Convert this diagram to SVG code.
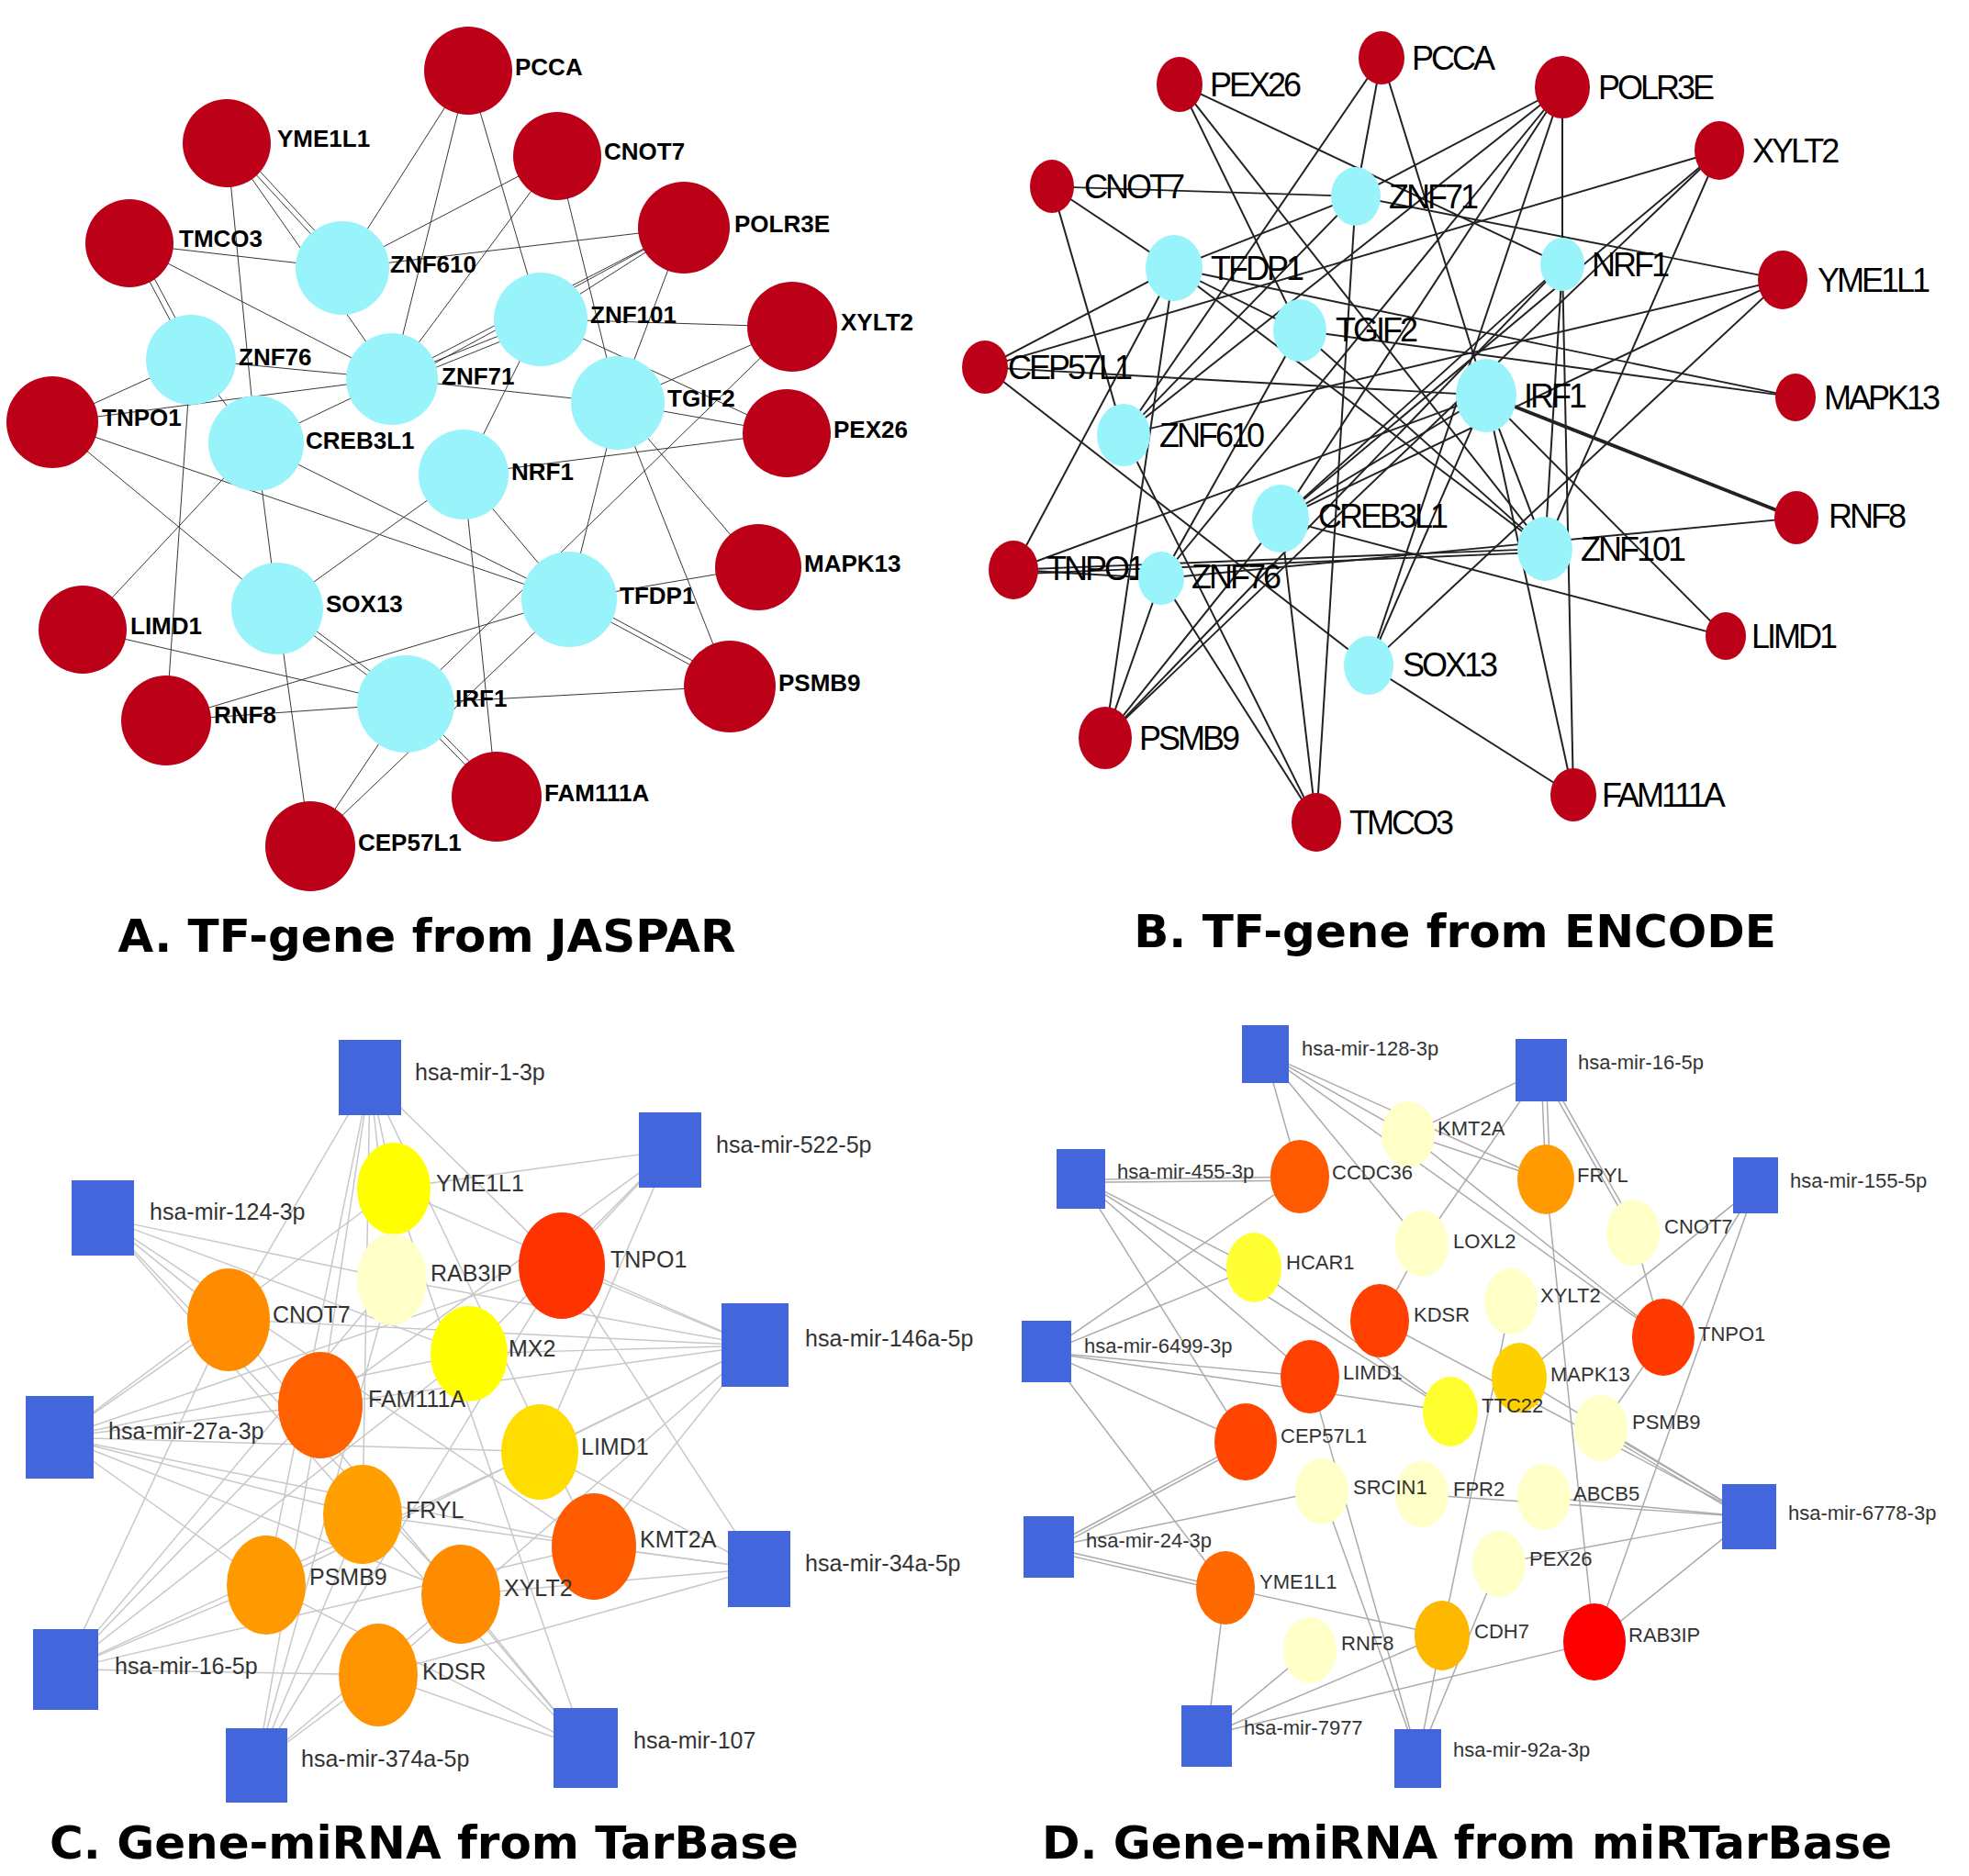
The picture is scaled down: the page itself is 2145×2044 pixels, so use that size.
<svg xmlns="http://www.w3.org/2000/svg" width="2145" height="2044" viewBox="0 0 2145 2044">
<style>
.ea line{stroke:#333;stroke-width:1}
.eb line{stroke:#222;stroke-width:2}
.ec line{stroke:#c8c8c8;stroke-width:1.5}
.ed line{stroke:#aaa;stroke-width:1.5}
.r{fill:#bb0018}.c{fill:#99f3fb}.q{fill:#4466dd}
.la{font-family:"Liberation Sans",Arial,sans-serif;font-weight:bold;font-size:26px;fill:#000;dominant-baseline:central}
.lb{font-family:"Liberation Sans",Arial,sans-serif;font-size:36px;letter-spacing:-3px;fill:#000;dominant-baseline:central}
.lc{font-family:"Liberation Sans",Arial,sans-serif;font-size:25px;fill:#333;dominant-baseline:central}
.ld{font-family:"Liberation Sans",Arial,sans-serif;font-size:22px;fill:#333;dominant-baseline:central}
.t{font-family:"DejaVu Sans",sans-serif;font-weight:bold;font-size:50px;fill:#000;text-anchor:middle}
</style>
<rect width="2145" height="2044" fill="#fff"/>
<g id="edges-a" class="ea" transform="scale(1,0.955)">
<line x1="510" y1="81" x2="373" y2="306"/><line x1="510" y1="81" x2="427" y2="432"/><line x1="510" y1="81" x2="589" y2="364"/>
<line x1="247" y1="163" x2="373" y2="306"/><line x1="252" y1="160" x2="378" y2="303"/><line x1="247" y1="163" x2="427" y2="432"/><line x1="247" y1="163" x2="279" y2="506"/>
<line x1="607" y1="178" x2="373" y2="306"/><line x1="607" y1="178" x2="427" y2="432"/><line x1="607" y1="178" x2="673" y2="460"/>
<line x1="141" y1="278" x2="373" y2="306"/><line x1="373" y1="306" x2="745" y2="260"/>
<line x1="745" y1="260" x2="427" y2="432"/><line x1="745" y1="260" x2="432" y2="438"/><line x1="745" y1="260" x2="589" y2="364"/><line x1="745" y1="260" x2="673" y2="460"/>
<line x1="141" y1="278" x2="208" y2="410"/><line x1="147" y1="276" x2="214" y2="408"/><line x1="141" y1="278" x2="427" y2="432"/>
<line x1="863" y1="373" x2="589" y2="364"/><line x1="863" y1="373" x2="673" y2="460"/><line x1="427" y1="432" x2="673" y2="460"/><line x1="863" y1="373" x2="442" y2="803"/>
<line x1="589" y1="364" x2="427" y2="432"/><line x1="592" y1="370" x2="430" y2="438"/><line x1="208" y1="410" x2="427" y2="432"/>
<line x1="589" y1="364" x2="857" y2="494"/><line x1="589" y1="364" x2="505" y2="541"/><line x1="427" y1="432" x2="279" y2="506"/>
<line x1="57" y1="482" x2="208" y2="410"/><line x1="57" y1="482" x2="427" y2="432"/><line x1="57" y1="482" x2="620" y2="684"/><line x1="57" y1="482" x2="302" y2="694"/>
<line x1="279" y1="506" x2="620" y2="684"/><line x1="279" y1="506" x2="90" y2="718"/><line x1="279" y1="506" x2="302" y2="694"/><line x1="208" y1="410" x2="279" y2="506"/><line x1="208" y1="410" x2="181" y2="822"/>
<line x1="505" y1="541" x2="857" y2="494"/><line x1="505" y1="541" x2="302" y2="694"/><line x1="505" y1="541" x2="620" y2="684"/><line x1="505" y1="541" x2="541" y2="909"/>
<line x1="673" y1="460" x2="620" y2="684"/><line x1="673" y1="460" x2="826" y2="647"/><line x1="673" y1="460" x2="795" y2="783"/><line x1="673" y1="460" x2="857" y2="494"/>
<line x1="620" y1="684" x2="826" y2="647"/><line x1="620" y1="684" x2="795" y2="783"/><line x1="624" y1="680" x2="799" y2="779"/><line x1="620" y1="684" x2="181" y2="822"/><line x1="620" y1="684" x2="338" y2="965"/>
<line x1="302" y1="694" x2="442" y2="803"/><line x1="306" y1="690" x2="446" y2="799"/><line x1="302" y1="694" x2="338" y2="965"/>
<line x1="90" y1="718" x2="442" y2="803"/><line x1="181" y1="822" x2="442" y2="803"/><line x1="442" y1="803" x2="795" y2="783"/>
<line x1="442" y1="803" x2="541" y2="909"/><line x1="446" y1="799" x2="545" y2="905"/><line x1="442" y1="803" x2="338" y2="965"/>
</g>
<g id="nodes-a">
<g id="a-PCCA" transform="translate(0,-4)"><circle class="r" cx="510" cy="81" r="48"/><text class="la" x="561" y="77">PCCA</text></g>
<g id="a-YME1L1" transform="translate(0,-7)"><circle class="r" cx="247" cy="163" r="48"/><text class="la" x="302" y="158">YME1L1</text></g>
<g id="a-CNOT7" transform="translate(0,-8)"><circle class="r" cx="607" cy="178" r="48"/><text class="la" x="658" y="173">CNOT7</text></g>
<g id="a-POLR3E" transform="translate(0,-12)"><circle class="r" cx="745" cy="260" r="50"/><text class="la" x="800" y="256">POLR3E</text></g>
<g id="a-TMCO3" transform="translate(0,-13)"><circle class="r" cx="141" cy="278" r="48"/><text class="la" x="195" y="273">TMCO3</text></g>
<g id="a-ZNF610" transform="translate(0,-14)"><circle class="c" cx="373" cy="306" r="51"/><text class="la" x="425" y="302">ZNF610</text></g>
<g id="a-XYLT2" transform="translate(0,-17)"><circle class="r" cx="863" cy="373" r="49"/><text class="la" x="916" y="368">XYLT2</text></g>
<g id="a-ZNF101" transform="translate(0,-16)"><circle class="c" cx="589" cy="364" r="51"/><text class="la" x="643" y="359">ZNF101</text></g>
<g id="a-ZNF76" transform="translate(0,-18)"><circle class="c" cx="208" cy="410" r="49"/><text class="la" x="260" y="407">ZNF76</text></g>
<g id="a-ZNF71" transform="translate(0,-19)"><circle class="c" cx="427" cy="432" r="50"/><text class="la" x="481" y="429">ZNF71</text></g>
<g id="a-TGIF2" transform="translate(0,-21)"><circle class="c" cx="673" cy="460" r="51"/><text class="la" x="727" y="455">TGIF2</text></g>
<g id="a-PEX26" transform="translate(0,-22)"><circle class="r" cx="857" cy="494" r="48"/><text class="la" x="908" y="490">PEX26</text></g>
<g id="a-TNPO1" transform="translate(0,-22)"><circle class="r" cx="57" cy="482" r="50"/><text class="la" x="111" y="477">TNPO1</text></g>
<g id="a-CREB3L1" transform="translate(0,-23)"><circle class="c" cx="279" cy="506" r="52"/><text class="la" x="333" y="503">CREB3L1</text></g>
<g id="a-NRF1" transform="translate(0,-24)"><circle class="c" cx="505" cy="541" r="49"/><text class="la" x="557" y="538">NRF1</text></g>
<g id="a-MAPK13" transform="translate(0,-29)"><circle class="r" cx="826" cy="647" r="47"/><text class="la" x="876" y="643">MAPK13</text></g>
<g id="a-TFDP1" transform="translate(0,-31)"><circle class="c" cx="620" cy="684" r="52"/><text class="la" x="675" y="680">TFDP1</text></g>
<g id="a-SOX13" transform="translate(0,-31)"><circle class="c" cx="302" cy="694" r="50"/><text class="la" x="355" y="689">SOX13</text></g>
<g id="a-LIMD1" transform="translate(0,-32)"><circle class="r" cx="90" cy="718" r="48"/><text class="la" x="142" y="714">LIMD1</text></g>
<g id="a-PSMB9" transform="translate(0,-35)"><circle class="r" cx="795" cy="783" r="50"/><text class="la" x="848" y="779">PSMB9</text></g>
<g id="a-RNF8" transform="translate(0,-37)"><circle class="r" cx="181" cy="822" r="49"/><text class="la" x="233" y="816">RNF8</text></g>
<g id="a-IRF1" transform="translate(0,-36)"><circle class="c" cx="442" cy="803" r="53"/><text class="la" x="496" y="797">IRF1</text></g>
<g id="a-FAM111A" transform="translate(0,-41)"><circle class="r" cx="541" cy="909" r="49"/><text class="la" x="593" y="905">FAM111A</text></g>
<g id="a-CEP57L1" transform="translate(0,-43)"><circle class="r" cx="338" cy="965" r="49"/><text class="la" x="390" y="961">CEP57L1</text></g>
</g>
<g id="edges-b" class="eb" transform="scale(1,0.955)">
<line x1="1285" y1="96" x2="1702" y2="302"/><line x1="1285" y1="96" x2="1416" y2="377"/><line x1="1285" y1="96" x2="1683" y2="626"/>
<line x1="1505" y1="66" x2="1477" y2="224"/><line x1="1505" y1="66" x2="1224" y2="496"/><line x1="1505" y1="66" x2="1619" y2="451"/>
<line x1="1702" y1="100" x2="1477" y2="224"/><line x1="1279" y1="306" x2="1477" y2="224"/><line x1="1702" y1="100" x2="1395" y2="592"/><line x1="1702" y1="100" x2="1491" y2="759"/><line x1="1702" y1="100" x2="1702" y2="302"/><line x1="1702" y1="100" x2="1265" y2="660"/><line x1="1702" y1="100" x2="1224" y2="496"/>
<line x1="1873" y1="172" x2="1073" y2="419"/><line x1="1873" y1="172" x2="1395" y2="592"/><line x1="1873" y1="172" x2="1683" y2="626"/><line x1="1873" y1="172" x2="1204" y2="842"/>
<line x1="1146" y1="213" x2="1477" y2="224"/><line x1="1146" y1="213" x2="1279" y2="306"/><line x1="1146" y1="213" x2="1224" y2="496"/>
<line x1="1477" y1="224" x2="1942" y2="319"/><line x1="1477" y1="224" x2="1434" y2="938"/><line x1="1477" y1="224" x2="1224" y2="496"/>
<line x1="1279" y1="306" x2="1416" y2="377"/><line x1="1279" y1="306" x2="1956" y2="453"/><line x1="1279" y1="306" x2="1683" y2="626"/><line x1="1279" y1="306" x2="1073" y2="419"/><line x1="1279" y1="306" x2="1104" y2="650"/><line x1="1279" y1="306" x2="1204" y2="842"/>
<line x1="1702" y1="302" x2="1395" y2="592"/><line x1="1702" y1="302" x2="1683" y2="626"/><line x1="1702" y1="302" x2="1714" y2="907"/><line x1="1702" y1="302" x2="1204" y2="842"/>
<line x1="1942" y1="319" x2="1224" y2="496"/><line x1="1942" y1="319" x2="1395" y2="592"/><line x1="1942" y1="319" x2="1491" y2="759"/>
<line x1="1416" y1="377" x2="1956" y2="453"/><line x1="1416" y1="377" x2="1265" y2="660"/><line x1="1416" y1="377" x2="1683" y2="626"/>
<line x1="1073" y1="419" x2="1619" y2="451"/><line x1="1073" y1="419" x2="1491" y2="759"/>
<line x1="1619" y1="451" x2="1957" y2="591" style="stroke-width:4"/><line x1="1619" y1="451" x2="1104" y2="650"/><line x1="1619" y1="451" x2="1880" y2="726"/><line x1="1619" y1="451" x2="1683" y2="626"/><line x1="1619" y1="451" x2="1714" y2="907"/><line x1="1619" y1="451" x2="1491" y2="759"/><line x1="1619" y1="451" x2="1395" y2="592"/>
<line x1="1395" y1="592" x2="1880" y2="726"/><line x1="1395" y1="592" x2="1434" y2="938"/><line x1="1395" y1="592" x2="1204" y2="842"/>
<line x1="1957" y1="591" x2="1265" y2="660"/><line x1="1683" y1="626" x2="1104" y2="650"/><line x1="1683" y1="630" x2="1104" y2="655"/>
<line x1="1224" y1="496" x2="1434" y2="938"/><line x1="1265" y1="660" x2="1204" y2="842"/><line x1="1265" y1="660" x2="1434" y2="938"/><line x1="1491" y1="759" x2="1714" y2="907"/><line x1="1265" y1="660" x2="1104" y2="650"/>
</g>
<g id="nodes-b">
<g id="b-PEX26" transform="translate(0,-4)"><ellipse class="r" cx="1285" cy="96" rx="25" ry="30"/><text class="lb" x="1318" y="96">PEX26</text></g>
<g id="b-PCCA" transform="translate(0,-3)"><ellipse class="r" cx="1505" cy="66" rx="25" ry="29"/><text class="lb" x="1538" y="66">PCCA</text></g>
<g id="b-POLR3E" transform="translate(0,-5)"><ellipse class="r" cx="1702" cy="100" rx="30" ry="34"/><text class="lb" x="1741" y="100">POLR3E</text></g>
<g id="b-XYLT2" transform="translate(0,-8)"><ellipse class="r" cx="1873" cy="172" rx="27" ry="32"/><text class="lb" x="1909" y="172">XYLT2</text></g>
<g id="b-CNOT7" transform="translate(0,-10)"><ellipse class="r" cx="1146" cy="213" rx="24" ry="29"/><text class="lb" x="1181" y="213">CNOT7</text></g>
<g id="b-ZNF71" transform="translate(0,-10)"><ellipse class="c" cx="1477" cy="224" rx="27" ry="32"/><text class="lb" x="1513" y="224">ZNF71</text></g>
<g id="b-TFDP1" transform="translate(0,-14)"><ellipse class="c" cx="1279" cy="306" rx="31" ry="36"/><text class="lb" x="1319" y="306">TFDP1</text></g>
<g id="b-NRF1" transform="translate(0,-14)"><ellipse class="c" cx="1702" cy="302" rx="24" ry="29"/><text class="lb" x="1734" y="302">NRF1</text></g>
<g id="b-YME1L1" transform="translate(0,-14)"><ellipse class="r" cx="1942" cy="319" rx="27" ry="32"/><text class="lb" x="1980" y="319">YME1L1</text></g>
<g id="b-TGIF2" transform="translate(0,-17)"><ellipse class="c" cx="1416" cy="377" rx="29" ry="34"/><text class="lb" x="1455" y="376">TGIF2</text></g>
<g id="b-CEP57L1"><ellipse class="r" cx="1073" cy="400" rx="25" ry="29"/><text class="lb" x="1098" y="400">CEP57L1</text></g>
<g id="b-IRF1" transform="translate(0,-20)"><ellipse class="c" cx="1619" cy="451" rx="33" ry="40"/><text class="lb" x="1660" y="451">IRF1</text></g>
<g id="b-MAPK13" transform="translate(0,-20)"><ellipse class="r" cx="1956" cy="453" rx="22" ry="26"/><text class="lb" x="1987" y="453">MAPK13</text></g>
<g id="b-ZNF610" transform="translate(0,-22)"><ellipse class="c" cx="1224" cy="496" rx="29" ry="34"/><text class="lb" x="1263" y="496">ZNF610</text></g>
<g id="b-CREB3L1" transform="translate(0,-27)"><ellipse class="c" cx="1395" cy="592" rx="31" ry="37"/><text class="lb" x="1436" y="589">CREB3L1</text></g>
<g id="b-RNF8" transform="translate(0,-27)"><ellipse class="r" cx="1957" cy="591" rx="24" ry="29"/><text class="lb" x="1992" y="589">RNF8</text></g>
<g id="b-ZNF101" transform="translate(0,-28)"><ellipse class="c" cx="1683" cy="626" rx="30" ry="35"/><text class="lb" x="1722" y="626">ZNF101</text></g>
<g id="b-TNPO1" transform="translate(0,-29)"><ellipse class="r" cx="1104" cy="650" rx="27" ry="32"/><text class="lb" x="1140" y="648">TNPO1</text></g>
<g id="b-ZNF76" transform="translate(0,-30)"><ellipse class="c" cx="1265" cy="660" rx="25" ry="29"/><text class="lb" x="1298" y="658">ZNF76</text></g>
<g id="b-LIMD1" transform="translate(0,-33)"><ellipse class="r" cx="1880" cy="726" rx="22" ry="26"/><text class="lb" x="1908" y="726">LIMD1</text></g>
<g id="b-SOX13" transform="translate(0,-34)"><ellipse class="c" cx="1491" cy="759" rx="27" ry="32"/><text class="lb" x="1528" y="758">SOX13</text></g>
<g id="b-PSMB9" transform="translate(0,-38)"><ellipse class="r" cx="1204" cy="842" rx="29" ry="34"/><text class="lb" x="1241" y="842">PSMB9</text></g>
<g id="b-FAM111A" transform="translate(0,-41)"><ellipse class="r" cx="1714" cy="907" rx="25" ry="29"/><text class="lb" x="1745" y="907">FAM111A</text></g>
<g id="b-TMCO3" transform="translate(0,-42)"><ellipse class="r" cx="1434" cy="938" rx="27" ry="32"/><text class="lb" x="1470" y="938">TMCO3</text></g>
</g>
<g id="edges-c" class="ec" transform="matrix(1,0,0,0.98,0,23.48)">
<line x1="429" y1="1297" x2="403" y2="1174"/><line x1="429" y1="1297" x2="730" y2="1255"/><line x1="429" y1="1297" x2="65" y2="1574"/><line x1="429" y1="1297" x2="638" y2="1920"/><line x1="429" y1="1297" x2="822" y2="1472"/>
<line x1="427" y1="1398" x2="403" y2="1174"/><line x1="427" y1="1398" x2="112" y2="1330"/><line x1="427" y1="1398" x2="822" y2="1472"/><line x1="427" y1="1398" x2="71" y2="1832"/><line x1="427" y1="1398" x2="280" y2="1938"/>
<line x1="612" y1="1383" x2="403" y2="1174"/><line x1="612" y1="1383" x2="730" y2="1255"/><line x1="612" y1="1383" x2="822" y2="1472"/><line x1="612" y1="1383" x2="65" y2="1574"/><line x1="612" y1="1383" x2="280" y2="1938"/><line x1="612" y1="1383" x2="827" y2="1720"/>
<line x1="249" y1="1443" x2="403" y2="1174"/><line x1="249" y1="1443" x2="112" y2="1330"/><line x1="249" y1="1443" x2="822" y2="1472"/><line x1="249" y1="1443" x2="65" y2="1574"/><line x1="249" y1="1443" x2="71" y2="1832"/><line x1="249" y1="1443" x2="638" y2="1920"/>
<line x1="511" y1="1481" x2="730" y2="1255"/><line x1="511" y1="1481" x2="112" y2="1330"/><line x1="511" y1="1481" x2="822" y2="1472"/><line x1="511" y1="1481" x2="65" y2="1574"/><line x1="511" y1="1481" x2="71" y2="1832"/>
<line x1="349" y1="1538" x2="403" y2="1174"/><line x1="349" y1="1538" x2="730" y2="1255"/><line x1="349" y1="1538" x2="65" y2="1574"/><line x1="349" y1="1538" x2="71" y2="1832"/><line x1="349" y1="1538" x2="280" y2="1938"/><line x1="349" y1="1538" x2="822" y2="1472"/>
<line x1="588" y1="1590" x2="730" y2="1255"/><line x1="588" y1="1590" x2="822" y2="1472"/><line x1="588" y1="1590" x2="65" y2="1574"/><line x1="588" y1="1590" x2="71" y2="1832"/><line x1="588" y1="1590" x2="827" y2="1720"/>
<line x1="395" y1="1660" x2="403" y2="1174"/><line x1="395" y1="1660" x2="112" y2="1330"/><line x1="395" y1="1660" x2="65" y2="1574"/><line x1="395" y1="1660" x2="827" y2="1720"/><line x1="395" y1="1660" x2="638" y2="1920"/><line x1="395" y1="1660" x2="280" y2="1938"/>
<line x1="647" y1="1695" x2="403" y2="1174"/><line x1="647" y1="1695" x2="112" y2="1330"/><line x1="647" y1="1695" x2="822" y2="1472"/><line x1="647" y1="1695" x2="827" y2="1720"/><line x1="647" y1="1695" x2="65" y2="1574"/><line x1="647" y1="1695" x2="71" y2="1832"/>
<line x1="290" y1="1738" x2="403" y2="1174"/><line x1="290" y1="1738" x2="65" y2="1574"/><line x1="290" y1="1738" x2="822" y2="1472"/><line x1="290" y1="1738" x2="71" y2="1832"/><line x1="290" y1="1738" x2="638" y2="1920"/>
<line x1="502" y1="1749" x2="112" y2="1330"/><line x1="502" y1="1749" x2="65" y2="1574"/><line x1="502" y1="1749" x2="827" y2="1720"/><line x1="502" y1="1749" x2="280" y2="1938"/><line x1="502" y1="1749" x2="638" y2="1920"/>
<line x1="412" y1="1838" x2="71" y2="1832"/><line x1="412" y1="1838" x2="280" y2="1938"/><line x1="412" y1="1838" x2="822" y2="1472"/><line x1="412" y1="1838" x2="827" y2="1720"/><line x1="412" y1="1838" x2="638" y2="1920"/>
</g>
<g id="nodes-c">
<g id="c-m1"><rect class="q" x="369" y="1133" width="68" height="82"/><text class="lc" x="452" y="1168">hsa-mir-1-3p</text></g>
<g id="c-m522" transform="translate(0,-2)"><rect class="q" x="696" y="1214" width="68" height="82"/><text class="lc" x="780" y="1249">hsa-mir-522-5p</text></g>
<g id="c-m124" transform="translate(0,-3)"><rect class="q" x="78" y="1289" width="68" height="82"/><text class="lc" x="163" y="1323">hsa-mir-124-3p</text></g>
<g id="c-m146" transform="translate(0,-6)"><rect class="q" x="786" y="1426" width="73" height="91"/><text class="lc" x="877" y="1464">hsa-mir-146a-5p</text></g>
<g id="c-m27" transform="translate(0,-8)"><rect class="q" x="28" y="1529" width="74" height="90"/><text class="lc" x="118" y="1567">hsa-mir-27a-3p</text></g>
<g id="c-m34" transform="translate(0,-11)"><rect class="q" x="793" y="1679" width="68" height="83"/><text class="lc" x="877" y="1714">hsa-mir-34a-5p</text></g>
<g id="c-m16" transform="translate(0,-13)"><rect class="q" x="36" y="1788" width="71" height="88"/><text class="lc" x="125" y="1828">hsa-mir-16-5p</text></g>
<g id="c-m374" transform="translate(0,-15)"><rect class="q" x="246" y="1898" width="67" height="81"/><text class="lc" x="328" y="1931">hsa-mir-374a-5p</text></g>
<g id="c-m107" transform="translate(0,-15)"><rect class="q" x="603" y="1876" width="70" height="87"/><text class="lc" x="690" y="1911">hsa-mir-107</text></g>
<g id="c-YME1L1" transform="translate(0,-2)"><ellipse cx="429" cy="1297" rx="40" ry="50" fill="#ffff00"/><text class="lc" x="475" y="1291">YME1L1</text></g>
<g id="c-RAB3IP" transform="translate(0,-4)"><ellipse cx="427" cy="1398" rx="38" ry="50" fill="#ffffc8"/><text class="lc" x="469" y="1391">RAB3IP</text></g>
<g id="c-TNPO1" transform="translate(0,-4)"><ellipse cx="612" cy="1383" rx="47" ry="58" fill="#ff3300"/><text class="lc" x="665" y="1376">TNPO1</text></g>
<g id="c-CNOT7" transform="translate(0,-5)"><ellipse cx="249" cy="1443" rx="45" ry="56" fill="#ff8c00"/><text class="lc" x="297" y="1437">CNOT7</text></g>
<g id="c-MX2" transform="translate(0,-6)"><ellipse cx="511" cy="1481" rx="42" ry="52" fill="#ffff00"/><text class="lc" x="554" y="1475">MX2</text></g>
<g id="c-FAM111A" transform="translate(0,-7)"><ellipse cx="349" cy="1538" rx="46" ry="58" fill="#ff6000"/><text class="lc" x="401" y="1531">FAM111A</text></g>
<g id="c-LIMD1" transform="translate(0,-8)"><ellipse cx="588" cy="1590" rx="42" ry="52" fill="#ffdd00"/><text class="lc" x="633" y="1584">LIMD1</text></g>
<g id="c-FRYL" transform="translate(0,-10)"><ellipse cx="395" cy="1660" rx="43" ry="54" fill="#ffa000"/><text class="lc" x="442" y="1655">FRYL</text></g>
<g id="c-KMT2A" transform="translate(0,-10)"><ellipse cx="647" cy="1695" rx="46" ry="58" fill="#ff5c00"/><text class="lc" x="697" y="1687">KMT2A</text></g>
<g id="c-PSMB9" transform="translate(0,-11)"><ellipse cx="290" cy="1738" rx="43" ry="54" fill="#ff9900"/><text class="lc" x="337" y="1729">PSMB9</text></g>
<g id="c-XYLT2" transform="translate(0,-12)"><ellipse cx="502" cy="1749" rx="43" ry="54" fill="#ff8c00"/><text class="lc" x="549" y="1742">XYLT2</text></g>
<g id="c-KDSR" transform="translate(0,-13)"><ellipse cx="412" cy="1838" rx="43" ry="56" fill="#ff9400"/><text class="lc" x="460" y="1834">KDSR</text></g>
</g>
<g id="edges-d" class="ed" transform="matrix(1,0,0,0.975,0,28.5)">
<line x1="1378" y1="1148" x2="1416" y2="1286"/><line x1="1378" y1="1148" x2="1534" y2="1238"/><line x1="1378" y1="1148" x2="1549" y2="1361"/><line x1="1378" y1="1148" x2="1684" y2="1289"/><line x1="1378" y1="1148" x2="1812" y2="1465"/>
<line x1="1679" y1="1167" x2="1534" y2="1238"/><line x1="1679" y1="1167" x2="1684" y2="1289"/><line x1="1684" y1="1167" x2="1689" y2="1289"/><line x1="1679" y1="1167" x2="1779" y2="1348"/><line x1="1684" y1="1167" x2="1784" y2="1348"/><line x1="1679" y1="1167" x2="1549" y2="1361"/>
<line x1="1178" y1="1289" x2="1416" y2="1286"/><line x1="1178" y1="1292" x2="1416" y2="1290"/><line x1="1178" y1="1289" x2="1366" y2="1387"/><line x1="1178" y1="1289" x2="1357" y2="1582"/><line x1="1178" y1="1289" x2="1427" y2="1509"/><line x1="1178" y1="1289" x2="1580" y2="1548"/>
<line x1="1913" y1="1296" x2="1655" y2="1510"/><line x1="1913" y1="1296" x2="1812" y2="1465"/><line x1="1913" y1="1296" x2="1737" y2="1806"/>
<line x1="1140" y1="1482" x2="1416" y2="1286"/><line x1="1140" y1="1482" x2="1366" y2="1387"/><line x1="1140" y1="1482" x2="1357" y2="1582"/><line x1="1140" y1="1482" x2="1427" y2="1509"/><line x1="1140" y1="1482" x2="1580" y2="1548"/><line x1="1140" y1="1482" x2="1335" y2="1745"/>
<line x1="1906" y1="1666" x2="1744" y2="1567"/><line x1="1906" y1="1670" x2="1744" y2="1571"/><line x1="1906" y1="1666" x2="1655" y2="1510"/><line x1="1906" y1="1666" x2="1682" y2="1644"/><line x1="1906" y1="1666" x2="1549" y2="1641"/><line x1="1906" y1="1666" x2="1633" y2="1718"/><line x1="1906" y1="1666" x2="1737" y2="1806"/><line x1="1906" y1="1666" x2="1503" y2="1447"/>
<line x1="1143" y1="1700" x2="1357" y2="1582"/><line x1="1143" y1="1704" x2="1357" y2="1586"/><line x1="1143" y1="1700" x2="1440" y2="1637"/><line x1="1143" y1="1700" x2="1335" y2="1745"/><line x1="1143" y1="1704" x2="1335" y2="1749"/>
<line x1="1315" y1="1910" x2="1335" y2="1745"/><line x1="1315" y1="1910" x2="1427" y2="1815"/><line x1="1315" y1="1910" x2="1571" y2="1798"/><line x1="1315" y1="1910" x2="1737" y2="1806"/>
<line x1="1545" y1="1936" x2="1440" y2="1637"/><line x1="1545" y1="1936" x2="1427" y2="1509"/><line x1="1545" y1="1936" x2="1571" y2="1798"/><line x1="1545" y1="1936" x2="1633" y2="1718"/>
<line x1="1571" y1="1798" x2="1646" y2="1425"/><line x1="1335" y1="1745" x2="1571" y2="1798"/><line x1="1503" y1="1447" x2="1549" y2="1361"/><line x1="1779" y1="1348" x2="1812" y2="1465"/><line x1="1684" y1="1289" x2="1737" y2="1806"/><line x1="1534" y1="1238" x2="1684" y2="1289"/><line x1="1534" y1="1238" x2="1812" y2="1465"/><line x1="1366" y1="1387" x2="1580" y2="1548"/><line x1="1812" y1="1465" x2="1744" y2="1567"/>
</g>
<g id="nodes-d">
<g id="d-m128"><rect class="q" x="1353" y="1117" width="51" height="63"/><text class="ld" x="1418" y="1142">hsa-mir-128-3p</text></g>
<g id="d-m16" transform="translate(0,-1)"><rect class="q" x="1651" y="1133" width="56" height="68"/><text class="ld" x="1719" y="1158">hsa-mir-16-5p</text></g>
<g id="d-m455" transform="translate(0,-4)"><rect class="q" x="1151" y="1256" width="53" height="65"/><text class="ld" x="1217" y="1280">hsa-mir-455-3p</text></g>
<g id="d-m155" transform="translate(0,-4)"><rect class="q" x="1888" y="1265" width="49" height="61"/><text class="ld" x="1950" y="1290">hsa-mir-155-5p</text></g>
<g id="d-m6499" transform="translate(0,-9)"><rect class="q" x="1113" y="1448" width="54" height="67"/><text class="ld" x="1181" y="1475">hsa-mir-6499-3p</text></g>
<g id="d-m6778" transform="translate(0,-13)"><rect class="q" x="1876" y="1630" width="59" height="71"/><text class="ld" x="1948" y="1661">hsa-mir-6778-3p</text></g>
<g id="d-m24" transform="translate(0,-14)"><rect class="q" x="1115" y="1666" width="55" height="67"/><text class="ld" x="1183" y="1692">hsa-mir-24-3p</text></g>
<g id="d-m7977" transform="translate(0,-19)"><rect class="q" x="1287" y="1877" width="55" height="67"/><text class="ld" x="1355" y="1901">hsa-mir-7977</text></g>
<g id="d-m92" transform="translate(0,-20)"><rect class="q" x="1519" y="1904" width="51" height="64"/><text class="ld" x="1583" y="1926">hsa-mir-92a-3p</text></g>
<g id="d-KMT2A" transform="translate(0,-2)"><ellipse cx="1534" cy="1238" rx="29" ry="36" fill="#ffffc8"/><text class="ld" x="1566" y="1231">KMT2A</text></g>
<g id="d-CCDC36" transform="translate(0,-4)"><ellipse cx="1416" cy="1286" rx="32" ry="40" fill="#ff5a00"/><text class="ld" x="1451" y="1281">CCDC36</text></g>
<g id="d-FRYL" transform="translate(0,-4)"><ellipse cx="1684" cy="1289" rx="31" ry="38" fill="#ff9a00"/><text class="ld" x="1718" y="1284">FRYL</text></g>
<g id="d-CNOT7" transform="translate(0,-5)"><ellipse cx="1779" cy="1348" rx="29" ry="36" fill="#ffffc8"/><text class="ld" x="1813" y="1341">CNOT7</text></g>
<g id="d-LOXL2" transform="translate(0,-6)"><ellipse cx="1549" cy="1361" rx="29" ry="36" fill="#ffffc8"/><text class="ld" x="1583" y="1358">LOXL2</text></g>
<g id="d-HCAR1" transform="translate(0,-6)"><ellipse cx="1366" cy="1387" rx="30" ry="38" fill="#ffff33"/><text class="ld" x="1401" y="1381">HCAR1</text></g>
<g id="d-XYLT2" transform="translate(0,-7)"><ellipse cx="1646" cy="1425" rx="29" ry="36" fill="#ffffc8"/><text class="ld" x="1678" y="1418">XYLT2</text></g>
<g id="d-KDSR" transform="translate(0,-8)"><ellipse cx="1503" cy="1447" rx="32" ry="40" fill="#ff4000"/><text class="ld" x="1540" y="1440">KDSR</text></g>
<g id="d-TNPO1" transform="translate(0,-8)"><ellipse cx="1812" cy="1465" rx="34" ry="42" fill="#ff3a00"/><text class="ld" x="1850" y="1461">TNPO1</text></g>
<g id="d-MAPK13" transform="translate(0,-9)"><ellipse cx="1655" cy="1510" rx="30" ry="38" fill="#ffd000"/><text class="ld" x="1689" y="1506">MAPK13</text></g>
<g id="d-LIMD1" transform="translate(0,-9)"><ellipse cx="1427" cy="1509" rx="32" ry="40" fill="#ff4000"/><text class="ld" x="1463" y="1504">LIMD1</text></g>
<g id="d-TTC22" transform="translate(0,-10)"><ellipse cx="1580" cy="1548" rx="30" ry="38" fill="#ffff30"/><text class="ld" x="1614" y="1541">TTC22</text></g>
<g id="d-PSMB9" transform="translate(0,-11)"><ellipse cx="1744" cy="1567" rx="29" ry="36" fill="#ffffc8"/><text class="ld" x="1778" y="1560">PSMB9</text></g>
<g id="d-CEP57L1" transform="translate(0,-11)"><ellipse cx="1357" cy="1582" rx="34" ry="42" fill="#ff4500"/><text class="ld" x="1395" y="1575">CEP57L1</text></g>
<g id="d-FPR2" transform="translate(0,-13)"><ellipse cx="1549" cy="1641" rx="29" ry="36" fill="#ffffc8"/><text class="ld" x="1583" y="1635">FPR2</text></g>
<g id="d-SRCIN1" transform="translate(0,-12)"><ellipse cx="1440" cy="1637" rx="29" ry="36" fill="#ffffc8"/><text class="ld" x="1474" y="1632">SRCIN1</text></g>
<g id="d-ABCB5" transform="translate(0,-13)"><ellipse cx="1682" cy="1644" rx="29" ry="36" fill="#ffffc8"/><text class="ld" x="1714" y="1640">ABCB5</text></g>
<g id="d-PEX26" transform="translate(0,-14)"><ellipse cx="1633" cy="1718" rx="29" ry="36" fill="#ffffc8"/><text class="ld" x="1666" y="1712">PEX26</text></g>
<g id="d-YME1L1" transform="translate(0,-15)"><ellipse cx="1335" cy="1745" rx="32" ry="40" fill="#ff6a00"/><text class="ld" x="1372" y="1738">YME1L1</text></g>
<g id="d-CDH7" transform="translate(0,-16)"><ellipse cx="1571" cy="1798" rx="30" ry="38" fill="#ffb800"/><text class="ld" x="1606" y="1793">CDH7</text></g>
<g id="d-RNF8" transform="translate(0,-17)"><ellipse cx="1427" cy="1815" rx="29" ry="36" fill="#ffffc8"/><text class="ld" x="1461" y="1807">RNF8</text></g>
<g id="d-RAB3IP" transform="translate(0,-17)"><ellipse cx="1737" cy="1806" rx="34" ry="42" fill="#ff0000"/><text class="ld" x="1774" y="1798">RAB3IP</text></g>
</g>
<g id="titles">
<text class="t" x="465" y="1037">A. TF-gene from JASPAR</text>
<text class="t" x="1585" y="1032">B. TF-gene from ENCODE</text>
<text class="t" x="462" y="2025">C. Gene-miRNA from TarBase</text>
<text class="t" x="1598" y="2025">D. Gene-miRNA from miRTarBase</text>
</g>
</svg>
